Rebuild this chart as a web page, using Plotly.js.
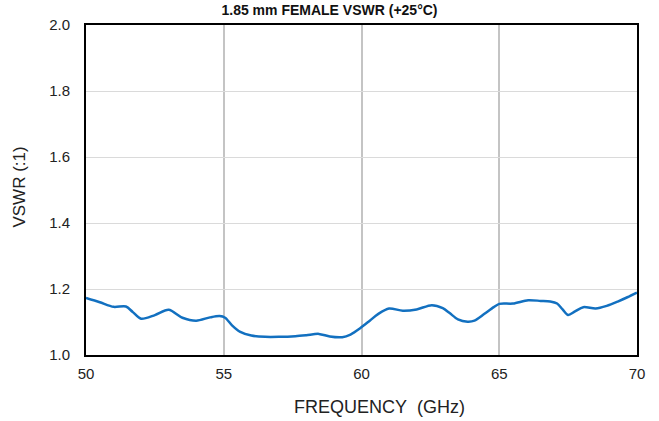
<!DOCTYPE html>
<html>
<head>
<meta charset="utf-8">
<script src="https://cdn.plot.ly/plotly-3.0.1.min.js"></script>
<style>html,body{margin:0;padding:0;background:#fff;}#chart{width:659px;height:421px;}</style>
</head>
<body>
<div id="chart"></div>
<script>
const freqGHz = [50.0, 50.5, 51.0, 51.45, 51.7, 52.0, 52.5, 53.0, 53.5, 54.0, 54.5, 54.85, 55.05, 55.3, 55.6, 56.0, 56.5, 57.0, 57.6, 58.0, 58.45, 58.85, 59.3, 59.6, 59.95, 60.3, 60.6, 61.0, 61.5, 62.0, 62.55, 62.95, 63.2, 63.5, 63.85, 64.1, 64.45, 64.8, 65.0, 65.5, 66.05, 66.5, 66.85, 67.1, 67.3, 67.5, 67.75, 68.05, 68.5, 68.9, 69.3, 69.65, 70.0];
const vswr = [1.173, 1.160, 1.146, 1.147, 1.130, 1.110, 1.121, 1.137, 1.113, 1.104, 1.114, 1.118, 1.113, 1.090, 1.070, 1.059, 1.055, 1.055, 1.057, 1.060, 1.064, 1.056, 1.054, 1.062, 1.081, 1.104, 1.124, 1.141, 1.134, 1.138, 1.151, 1.142, 1.127, 1.108, 1.101, 1.104, 1.124, 1.145, 1.155, 1.156, 1.166, 1.164, 1.162, 1.156, 1.138, 1.121, 1.132, 1.145, 1.141, 1.149, 1.162, 1.175, 1.189];
const xTicks = [50, 55, 60, 65, 70];
const yTicks = [1.0, 1.2, 1.4, 1.6, 1.8, 2.0];
const xTitle = 'FREQUENCY\u00a0\u00a0(GHz)';
const yTitle = 'VSWR (:1)';
const chartTitle = '<b>1.85 mm FEMALE VSWR (+25°C)</b>';

const FAM = 'Liberation Sans, Arial, sans-serif';
const trace = {
  x: freqGHz, y: vswr, type: 'scatter', mode: 'lines',
  line: {color: '#1270c0', width: 2.5, shape: 'spline', smoothing: 0.8},
  hoverinfo: 'x+y'
};
const layout = {
  width: 659, height: 421,
  margin: {l: 86, r: 22, t: 25, b: 66},
  paper_bgcolor: '#fff', plot_bgcolor: '#fff',
  font: {family: FAM, size: 15, color: '#222'},
  showlegend: false,
  title: {text: chartTitle, font: {family: FAM, size: 14, color: '#111'}, x: 0.5, xanchor: 'center', y: 0.975, yanchor: 'middle'},
  xaxis: {
    range: [50, 70], tickvals: xTicks, ticktext: xTicks.map(String),
    tickfont: {family: FAM, size: 15, color: '#222'},
    showgrid: true, gridcolor: '#c4c4c4', gridwidth: 2,
    showline: true, linecolor: '#000', linewidth: 2, mirror: true,
    ticks: '', zeroline: false, ticklabelstandoff: 4
  },
  yaxis: {
    range: [1.0, 2.0], tickvals: yTicks, ticktext: yTicks.map(v => v.toFixed(1)),
    tickfont: {family: FAM, size: 15, color: '#222'},
    showgrid: true, gridcolor: '#dadada', gridwidth: 1,
    showline: true, linecolor: '#000', linewidth: 2, mirror: true,
    ticks: '', zeroline: false, ticklabelstandoff: 11
  },
  annotations: [
    {text: xTitle, xref: 'paper', yref: 'paper', x: 0.532, y: -0.158, xanchor: 'center', yanchor: 'middle', showarrow: false,
     font: {family: FAM, size: 18, color: '#222'}},
    {text: yTitle, xref: 'paper', yref: 'paper', x: -0.12, y: 0.51, xanchor: 'center', yanchor: 'middle', showarrow: false, textangle: -90,
     font: {family: FAM, size: 17, color: '#222'}}
  ]
};
Plotly.newPlot('chart', [trace], layout, {displayModeBar: false, staticPlot: true});
</script>
</body>
</html>
